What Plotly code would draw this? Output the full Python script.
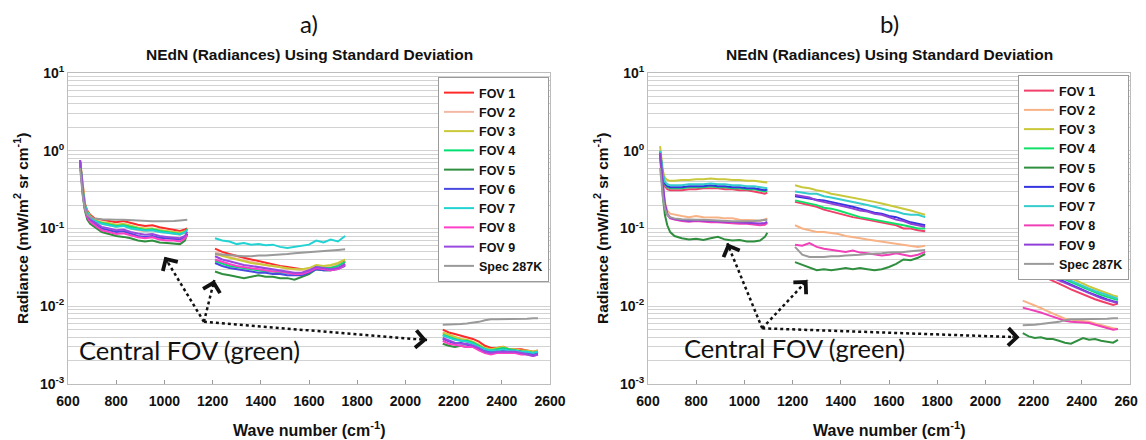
import math
import plotly.graph_objects as go

# ---------------- data ----------------
WN_LW = [650, 655, 662, 670, 680, 692, 710, 740, 770, 800, 830, 860, 890, 920, 950, 980, 1010, 1040, 1065, 1085, 1095]
WN_MW = [1210, 1240, 1270, 1300, 1330, 1360, 1390, 1420, 1450, 1480, 1510, 1540, 1570, 1600, 1630, 1660, 1690, 1720, 1750]
WN_SW = [2155, 2180, 2205, 2230, 2255, 2280, 2305, 2330, 2355, 2380, 2405, 2430, 2455, 2480, 2505, 2530, 2550]

NAMES = ["FOV 1", "FOV 2", "FOV 3", "FOV 4", "FOV 5", "FOV 6", "FOV 7", "FOV 8", "FOV 9", "Spec 287K"]
COLORS_A = ["#ff2a2a", "#f4b9a6", "#c9c93a", "#00e070", "#2f8f3f", "#4a4ae0", "#22d3d3", "#ff3fc8", "#9a48e0", "#9a9a9a"]
COLORS_B = ["#f0406a", "#f7b286", "#c8c83a", "#10e068", "#2f8f3f", "#3535e0", "#35cccc", "#f040b8", "#9040d8", "#9a9a9a"]

# panel a)
a_fov1_lw = [0.75, 0.52, 0.32, 0.21, 0.17, 0.15, 0.135, 0.13, 0.125, 0.12, 0.125, 0.118, 0.112, 0.108, 0.11, 0.104, 0.1, 0.098, 0.093, 0.097, 0.1]
a_fov2_lw = [0.74, 0.5, 0.3, 0.2, 0.16, 0.14, 0.125, 0.115, 0.11, 0.105, 0.11, 0.1, 0.095, 0.092, 0.095, 0.09, 0.088, 0.085, 0.083, 0.088, 0.09]
a_fov3_lw = [0.75, 0.51, 0.31, 0.2, 0.165, 0.145, 0.13, 0.12, 0.118, 0.112, 0.115, 0.108, 0.103, 0.1, 0.1, 0.096, 0.093, 0.09, 0.088, 0.092, 0.095]
a_fov4_lw = [0.74, 0.5, 0.3, 0.2, 0.16, 0.14, 0.125, 0.118, 0.112, 0.108, 0.11, 0.104, 0.1, 0.096, 0.098, 0.093, 0.09, 0.087, 0.085, 0.09, 0.098]
a_fov5_lw = [0.72, 0.45, 0.26, 0.17, 0.13, 0.115, 0.105, 0.09, 0.085, 0.08, 0.078, 0.075, 0.07, 0.068, 0.07, 0.066, 0.065, 0.064, 0.063, 0.07, 0.085]
a_fov6_lw = [0.73, 0.48, 0.28, 0.18, 0.145, 0.125, 0.115, 0.1, 0.095, 0.09, 0.092, 0.086, 0.08, 0.078, 0.08, 0.076, 0.074, 0.073, 0.072, 0.078, 0.085]
a_fov7_lw = [0.74, 0.5, 0.3, 0.2, 0.16, 0.14, 0.125, 0.115, 0.11, 0.105, 0.108, 0.1, 0.097, 0.094, 0.095, 0.09, 0.088, 0.086, 0.084, 0.09, 0.095]
a_fov8_lw = [0.72, 0.47, 0.27, 0.18, 0.14, 0.122, 0.11, 0.095, 0.09, 0.085, 0.087, 0.082, 0.077, 0.075, 0.077, 0.072, 0.07, 0.07, 0.068, 0.075, 0.082]
a_fov9_lw = [0.76, 0.5, 0.29, 0.19, 0.15, 0.13, 0.12, 0.105, 0.1, 0.095, 0.097, 0.09, 0.086, 0.083, 0.085, 0.08, 0.078, 0.077, 0.075, 0.08, 0.09]
a_spec_lw = [0.6, 0.4, 0.25, 0.18, 0.15, 0.14, 0.135, 0.132, 0.13, 0.13, 0.13, 0.128, 0.126, 0.125, 0.124, 0.124, 0.124, 0.125, 0.127, 0.128, 0.13]

a_fov1_mw = [0.055, 0.05, 0.047, 0.044, 0.042, 0.04, 0.038, 0.036, 0.034, 0.033, 0.032, 0.031, 0.03, 0.03, 0.033, 0.032, 0.033, 0.034, 0.038]
a_fov2_mw = [0.05, 0.046, 0.043, 0.041, 0.039, 0.037, 0.036, 0.034, 0.033, 0.032, 0.03, 0.03, 0.029, 0.03, 0.033, 0.032, 0.033, 0.034, 0.037]
a_fov3_mw = [0.047, 0.044, 0.042, 0.04, 0.038, 0.036, 0.035, 0.034, 0.033, 0.032, 0.031, 0.03, 0.03, 0.031, 0.034, 0.033, 0.034, 0.036, 0.04]
a_fov4_mw = [0.038, 0.035, 0.033, 0.032, 0.031, 0.03, 0.029, 0.028, 0.028, 0.027, 0.027, 0.026, 0.026, 0.028, 0.032, 0.031, 0.031, 0.033, 0.037]
a_fov5_mw = [0.028, 0.026, 0.025, 0.024, 0.023, 0.024, 0.025, 0.024, 0.024, 0.023, 0.023, 0.022, 0.024, 0.026, 0.03, 0.029, 0.029, 0.031, 0.034]
a_fov6_mw = [0.036, 0.033, 0.031, 0.03, 0.029, 0.028, 0.027, 0.027, 0.026, 0.026, 0.025, 0.025, 0.025, 0.027, 0.03, 0.029, 0.029, 0.03, 0.033]
a_fov7_mw = [0.075, 0.07, 0.068, 0.063, 0.065, 0.062, 0.063, 0.061, 0.062, 0.058, 0.056, 0.058, 0.06, 0.062, 0.07, 0.066, 0.072, 0.068, 0.08]
a_fov8_mw = [0.04, 0.037, 0.035, 0.033, 0.032, 0.031, 0.03, 0.029, 0.028, 0.028, 0.027, 0.026, 0.026, 0.028, 0.031, 0.03, 0.029, 0.03, 0.034]
a_fov9_mw = [0.044, 0.04, 0.038, 0.036, 0.034, 0.033, 0.032, 0.031, 0.03, 0.029, 0.028, 0.027, 0.027, 0.029, 0.032, 0.031, 0.03, 0.031, 0.035]
a_spec_mw = [0.047, 0.046, 0.045, 0.044, 0.044, 0.044, 0.045, 0.045, 0.046, 0.047, 0.047, 0.048, 0.049, 0.049, 0.05, 0.051, 0.052, 0.053, 0.054]

a_fov1_sw = [0.005, 0.0046, 0.0044, 0.0042, 0.004, 0.0038, 0.0035, 0.0031, 0.0029, 0.0029, 0.003, 0.0028, 0.0028, 0.0028, 0.0027, 0.0026, 0.0027]
a_fov2_sw = [0.0045, 0.0042, 0.0039, 0.0037, 0.0036, 0.0034, 0.0031, 0.0028, 0.0027, 0.0027, 0.0028, 0.0027, 0.0027, 0.0026, 0.0026, 0.0025, 0.0026]
a_fov3_sw = [0.0046, 0.0043, 0.004, 0.0038, 0.0037, 0.0035, 0.0032, 0.0029, 0.0028, 0.0029, 0.003, 0.0028, 0.0028, 0.0027, 0.0027, 0.0026, 0.0027]
a_fov4_sw = [0.0043, 0.004, 0.0038, 0.0036, 0.0036, 0.0034, 0.0031, 0.0028, 0.0027, 0.0028, 0.0029, 0.0028, 0.0027, 0.0026, 0.0026, 0.0025, 0.0026]
a_fov5_sw = [0.0033, 0.0031, 0.003, 0.0031, 0.003, 0.003, 0.0028, 0.0026, 0.0026, 0.0027, 0.0028, 0.0027, 0.0027, 0.0026, 0.0025, 0.0025, 0.0025]
a_fov6_sw = [0.0038, 0.0035, 0.0033, 0.0034, 0.0032, 0.0031, 0.0029, 0.0027, 0.0026, 0.0026, 0.0027, 0.0026, 0.0026, 0.0026, 0.0025, 0.0024, 0.0025]
a_fov7_sw = [0.0042, 0.0039, 0.0037, 0.0036, 0.0035, 0.0033, 0.003, 0.0028, 0.0027, 0.0027, 0.0028, 0.0027, 0.0027, 0.0026, 0.0026, 0.0025, 0.0026]
a_fov8_sw = [0.0036, 0.0033, 0.0032, 0.0031, 0.003, 0.003, 0.0027, 0.0025, 0.0024, 0.0025, 0.0025, 0.0025, 0.0025, 0.0024, 0.0024, 0.0023, 0.0024]
a_fov9_sw = [0.0039, 0.0036, 0.0034, 0.0033, 0.0033, 0.0031, 0.0029, 0.0026, 0.0025, 0.0026, 0.0026, 0.0026, 0.0026, 0.0025, 0.0024, 0.0023, 0.0024]
a_spec_sw = [0.0058, 0.0058, 0.0058, 0.0059, 0.006, 0.0061, 0.0063, 0.0066, 0.0068, 0.0068, 0.0068, 0.0068, 0.0068, 0.0068, 0.0069, 0.007, 0.007]

# panel b)
b_fov1_lw = [0.95, 0.62, 0.44, 0.35, 0.32, 0.31, 0.31, 0.31, 0.32, 0.32, 0.33, 0.33, 0.33, 0.32, 0.32, 0.31, 0.31, 0.3, 0.29, 0.28, 0.29]
b_fov2_lw = [0.95, 0.6, 0.35, 0.22, 0.17, 0.155, 0.15, 0.145, 0.14, 0.145, 0.14, 0.14, 0.138, 0.135, 0.135, 0.13, 0.13, 0.128, 0.125, 0.13, 0.135]
b_fov3_lw = [1.15, 0.8, 0.55, 0.45, 0.42, 0.41, 0.41, 0.42, 0.42, 0.43, 0.43, 0.44, 0.43, 0.43, 0.42, 0.42, 0.41, 0.41, 0.4, 0.39, 0.39]
b_fov4_lw = [0.97, 0.66, 0.47, 0.37, 0.34, 0.33, 0.33, 0.33, 0.34, 0.34, 0.34, 0.35, 0.34, 0.34, 0.33, 0.33, 0.32, 0.32, 0.31, 0.3, 0.31]
b_fov5_lw = [0.9, 0.5, 0.25, 0.15, 0.11, 0.09, 0.08, 0.075, 0.072, 0.074, 0.071, 0.075, 0.078, 0.072, 0.07, 0.071, 0.068, 0.068, 0.07, 0.078, 0.088]
b_fov6_lw = [0.98, 0.68, 0.48, 0.38, 0.35, 0.34, 0.34, 0.34, 0.35, 0.35, 0.35, 0.36, 0.35, 0.35, 0.34, 0.34, 0.33, 0.33, 0.32, 0.31, 0.32]
b_fov7_lw = [1.0, 0.7, 0.5, 0.4, 0.37, 0.36, 0.36, 0.36, 0.37, 0.37, 0.37, 0.38, 0.37, 0.37, 0.36, 0.36, 0.35, 0.35, 0.34, 0.33, 0.33]
b_fov8_lw = [0.92, 0.58, 0.32, 0.2, 0.15, 0.135, 0.13, 0.125, 0.122, 0.125, 0.122, 0.12, 0.12, 0.118, 0.118, 0.115, 0.115, 0.113, 0.11, 0.112, 0.118]
b_fov9_lw = [0.93, 0.6, 0.33, 0.21, 0.155, 0.138, 0.132, 0.128, 0.125, 0.128, 0.126, 0.124, 0.123, 0.122, 0.121, 0.12, 0.12, 0.118, 0.116, 0.118, 0.122]
b_spec_lw = [0.6, 0.4, 0.25, 0.18, 0.15, 0.14, 0.135, 0.132, 0.13, 0.13, 0.13, 0.128, 0.126, 0.125, 0.124, 0.124, 0.124, 0.125, 0.127, 0.128, 0.13]

b_fov1_mw = [0.22, 0.21, 0.2, 0.19, 0.175, 0.165, 0.155, 0.148, 0.14, 0.135, 0.13, 0.125, 0.12, 0.115, 0.11, 0.1, 0.1, 0.095, 0.092]
b_fov2_mw = [0.11, 0.1, 0.095, 0.09, 0.09, 0.087, 0.085, 0.08, 0.078, 0.075, 0.072, 0.07, 0.067, 0.065, 0.063, 0.062, 0.06, 0.058, 0.06]
b_fov3_mw = [0.36, 0.34, 0.33, 0.31, 0.3, 0.28, 0.27, 0.26, 0.25, 0.24, 0.23, 0.22, 0.21, 0.2, 0.19, 0.18, 0.17, 0.16, 0.15]
b_fov4_mw = [0.23, 0.22, 0.21, 0.2, 0.185, 0.18, 0.17, 0.16, 0.15, 0.14, 0.135, 0.13, 0.125, 0.12, 0.115, 0.11, 0.105, 0.1, 0.1]
b_fov5_mw = [0.037, 0.034, 0.031, 0.029, 0.03, 0.029, 0.03, 0.031, 0.03, 0.031, 0.03, 0.029, 0.03, 0.032, 0.035, 0.04, 0.039, 0.042, 0.047]
b_fov6_mw = [0.26, 0.25, 0.24, 0.235, 0.23, 0.22, 0.21, 0.2, 0.19, 0.18, 0.17, 0.16, 0.155, 0.145, 0.14, 0.13, 0.12, 0.115, 0.11]
b_fov7_mw = [0.3, 0.29, 0.28, 0.28, 0.26, 0.25, 0.24, 0.23, 0.22, 0.21, 0.2, 0.19, 0.18, 0.17, 0.165, 0.155, 0.15, 0.15, 0.14]
b_fov8_mw = [0.062, 0.06, 0.065, 0.058, 0.055, 0.053, 0.052, 0.05, 0.052, 0.049, 0.048, 0.046, 0.045, 0.046, 0.048, 0.046, 0.044, 0.046, 0.05]
b_fov9_mw = [0.27, 0.26, 0.25, 0.23, 0.22, 0.21, 0.2, 0.19, 0.18, 0.17, 0.165, 0.155, 0.15, 0.14, 0.13, 0.125, 0.115, 0.11, 0.105]
b_spec_mw = [0.058, 0.046, 0.043, 0.043, 0.043, 0.044, 0.044, 0.045, 0.045, 0.046, 0.047, 0.047, 0.048, 0.049, 0.049, 0.05, 0.051, 0.052, 0.053]

b_fov1_sw = [0.032, 0.03, 0.027, 0.025, 0.023, 0.021, 0.0195, 0.018, 0.0165, 0.0153, 0.0142, 0.0132, 0.0123, 0.0116, 0.011, 0.0104, 0.0108]
b_fov2_sw = [0.0118, 0.011, 0.0102, 0.0095, 0.0087, 0.008, 0.0074, 0.0069, 0.0067, 0.0066, 0.0065, 0.0063, 0.006, 0.0057, 0.0054, 0.0052, 0.0051]
b_fov3_sw = [0.046, 0.042, 0.038, 0.035, 0.032, 0.029, 0.027, 0.025, 0.023, 0.021, 0.0195, 0.018, 0.0168, 0.0157, 0.0147, 0.0138, 0.0133]
b_fov4_sw = [0.04, 0.037, 0.033, 0.031, 0.028, 0.026, 0.024, 0.022, 0.0205, 0.019, 0.0175, 0.0162, 0.015, 0.014, 0.0132, 0.0124, 0.012]
b_fov5_sw = [0.0045, 0.0041, 0.0039, 0.004, 0.0038, 0.0038, 0.0036, 0.0034, 0.0033, 0.0036, 0.0039, 0.0037, 0.0038, 0.0036, 0.0035, 0.0034, 0.0037]
b_fov6_sw = [0.037, 0.034, 0.031, 0.029, 0.026, 0.024, 0.022, 0.0205, 0.019, 0.0175, 0.0162, 0.015, 0.014, 0.013, 0.0122, 0.0116, 0.0112]
b_fov7_sw = [0.042, 0.039, 0.035, 0.032, 0.03, 0.027, 0.025, 0.023, 0.0213, 0.0197, 0.0182, 0.0168, 0.0157, 0.0147, 0.0138, 0.013, 0.0125]
b_fov8_sw = [0.0096, 0.0092, 0.0088, 0.0083, 0.0078, 0.0073, 0.0069, 0.0065, 0.0063, 0.0063, 0.0062, 0.0061, 0.0058, 0.0056, 0.0053, 0.005, 0.0051]
b_fov9_sw = [0.036, 0.033, 0.03, 0.028, 0.025, 0.023, 0.0215, 0.02, 0.0185, 0.017, 0.0158, 0.0146, 0.0136, 0.0127, 0.012, 0.0113, 0.011]
b_spec_sw = [0.0057, 0.0057, 0.0058, 0.0059, 0.006, 0.0061, 0.0063, 0.0066, 0.0068, 0.0068, 0.0068, 0.0068, 0.0068, 0.0068, 0.0069, 0.007, 0.007]

A_SERIES = [
    (a_fov1_lw, a_fov1_mw, a_fov1_sw), (a_fov2_lw, a_fov2_mw, a_fov2_sw), (a_fov3_lw, a_fov3_mw, a_fov3_sw),
    (a_fov4_lw, a_fov4_mw, a_fov4_sw), (a_fov5_lw, a_fov5_mw, a_fov5_sw), (a_fov6_lw, a_fov6_mw, a_fov6_sw),
    (a_fov7_lw, a_fov7_mw, a_fov7_sw), (a_fov8_lw, a_fov8_mw, a_fov8_sw), (a_fov9_lw, a_fov9_mw, a_fov9_sw),
    (a_spec_lw, a_spec_mw, a_spec_sw)]
B_SERIES = [
    (b_fov1_lw, b_fov1_mw, b_fov1_sw), (b_fov2_lw, b_fov2_mw, b_fov2_sw), (b_fov3_lw, b_fov3_mw, b_fov3_sw),
    (b_fov4_lw, b_fov4_mw, b_fov4_sw), (b_fov5_lw, b_fov5_mw, b_fov5_sw), (b_fov6_lw, b_fov6_mw, b_fov6_sw),
    (b_fov7_lw, b_fov7_mw, b_fov7_sw), (b_fov8_lw, b_fov8_mw, b_fov8_sw), (b_fov9_lw, b_fov9_mw, b_fov9_sw),
    (b_spec_lw, b_spec_mw, b_spec_sw)]

# arrows: origin point and tips (wavenumber, radiance)
ARROW_ORIGIN_A = (1164, 0.0063)
ARROW_TIPS_A = [(1000, 0.0434), (1207, 0.0218), (2090, 0.00368)]
ARROW_ORIGIN_B = (1074, 0.0052)
ARROW_TIPS_B = [(929, 0.0646), (1262, 0.0218), (2142, 0.00399)]

X_TICKS = [600, 800, 1000, 1200, 1400, 1600, 1800, 2000, 2200, 2400, 2600]

# ---------------- figure ----------------
# the page body adds an 8px margin, so the figure is laid out 8px up/left of the page target
OFF = 8
W, H = 1146 - OFF, 440 - OFF
BOLDF = "Liberation Sans, Arial, sans-serif"
CAL = "Lato, Open Sans, sans-serif"


def px(xp):
    return (xp - OFF) / W


def py(yp):
    return 1 - (yp - OFF) / H


XDOM_A = [px(68), px(550)]
XDOM_B = [px(648), px(1130)]
YDOM = [py(384), py(73)]

fig = go.Figure()

X_ALL = WN_LW + [None] + WN_MW + [None] + WN_SW


def add_panel(series, colors, xa, ya, legend):
    for name, col, (lw, mw, sw) in zip(NAMES, colors, series):
        fig.add_trace(go.Scatter(
            x=X_ALL, y=lw + [None] + mw + [None] + sw, name=name, mode="lines",
            line=dict(color=col, width=2), xaxis=xa, yaxis=ya, legend=legend,
            connectgaps=False))


add_panel(A_SERIES, COLORS_A, "x", "y", "legend")
add_panel(B_SERIES, COLORS_B, "x2", "y2", "legend2")

# y ticks (grid at every 1..9 x 10^k)
yvals, ytext = [], []
for k in range(-3, 2):
    for m in range(1, 10):
        if k == 1 and m > 1:
            break
        yvals.append(m * 10 ** k)
        ytext.append(f"10<sup>{k}</sup>" if m == 1 else " ")

axis_font = dict(family=BOLDF, size=14, color="#111111", weight="bold")
xcommon = dict(range=[600, 2600], tickvals=X_TICKS, showgrid=False, showline=True, mirror=True,
               linecolor="#bdbdbd", linewidth=1, ticks="inside", ticklen=4, tickcolor="#9a9a9a",
               tickfont=axis_font, zeroline=False, automargin=False, ticklabelstandoff=4)
ycommon = dict(type="log", range=[-3, 1], tickvals=yvals, ticktext=ytext, showgrid=True,
               gridcolor="#d2d2d2", gridwidth=1, showline=True, mirror=True, linecolor="#bdbdbd",
               ticks="", tickfont=axis_font, domain=YDOM, zeroline=False, automargin=False)

legend_font = dict(family=BOLDF, size=12.5, color="#111111", weight="bold")
fig.update_layout(
    width=W, height=H, margin=dict(l=0, r=0, t=0, b=0, autoexpand=False),
    paper_bgcolor="white", plot_bgcolor="white",
    xaxis=dict(xcommon, domain=XDOM_A, anchor="y"),
    yaxis=dict(ycommon, anchor="x"),
    xaxis2=dict(xcommon, domain=XDOM_B, anchor="y2"),
    yaxis2=dict(ycommon, anchor="x2"),
    legend=dict(x=px(549), xanchor="right", y=py(77), yanchor="top",
                bgcolor="white", bordercolor="#9a9a9a", borderwidth=1,
                font=legend_font, itemwidth=30, tracegroupgap=0),
    legend2=dict(x=px(1129), xanchor="right", y=py(75), yanchor="top",
                 bgcolor="white", bordercolor="#9a9a9a", borderwidth=1,
                 font=legend_font, itemwidth=30, tracegroupgap=0),
    showlegend=True,
)

annos = []
shapes = []
PX_PER_WN = (550 - 68) / 2000
PX_PER_DEC = (384 - 73) / 4


def panel_text(xc, label, xref, yref, origin, tips, txt_x, txt_y):
    annos.append(dict(text=label, x=px(xc), y=py(24), xref="paper", yref="paper",
                      xanchor="center", yanchor="middle",
                      showarrow=False, font=dict(family=CAL, size=24, color="#111")))
    annos.append(dict(text="NEdN (Radiances) Using Standard Deviation", x=px(xc), y=py(55),
                      xref="paper", yref="paper", showarrow=False, xanchor="center", yanchor="middle",
                      font=dict(family=BOLDF, size=15.5, color="#111", weight="bold")))
    annos.append(dict(text="Central FOV (green)", x=txt_x, y=math.log10(txt_y), xref=xref, yref=yref,
                      xanchor="center", yanchor="middle",
                      showarrow=False, font=dict(family=CAL, size=25.5, color="#111")))
    ox, oy = origin
    for tx, ty in tips:
        shapes.append(dict(type="line", xref=xref, yref=yref, x0=ox, y0=oy, x1=tx, y1=ty,
                           line=dict(color="#111", width=2.5, dash="dot")))
        dx = (ox - tx) * PX_PER_WN
        dy = -(math.log10(oy) - math.log10(ty)) * PX_PER_DEC
        n = math.hypot(dx, dy)
        annos.append(dict(x=tx, y=math.log10(ty), xref=xref, yref=yref, text="",
                          showarrow=True, arrowhead=4, arrowsize=2.4, arrowwidth=1.4,
                          arrowcolor="#111", ax=dx / n * 9, ay=dy / n * 9, standoff=0))


panel_text(309, "a)", "x", "y", ARROW_ORIGIN_A, ARROW_TIPS_A, 1106, 10 ** -2.563)
panel_text(889, "b)", "x2", "y2", ARROW_ORIGIN_B, ARROW_TIPS_B, 1208, 10 ** -2.537)

# axis titles
for xc, yt_x in [(309, 21), (889, 601)]:
    annos.append(dict(text="Wave number (cm<sup>-1</sup>)", x=px(xc), y=py(429), xref="paper",
                      yref="paper", showarrow=False, xanchor="center", yanchor="middle",
                      font=dict(family=BOLDF, size=16, color="#111", weight="bold")))
    annos.append(dict(text="Radiance (mW/m<sup>2</sup> sr cm<sup>-1</sup>)", x=px(yt_x), y=py(229),
                      xref="paper", yref="paper", showarrow=False, textangle=-90,
                      xanchor="center", yanchor="middle",
                      font=dict(family=BOLDF, size=15.5, color="#111", weight="bold")))

fig.update_layout(annotations=annos, shapes=shapes)
fig.write_html("out.html")
